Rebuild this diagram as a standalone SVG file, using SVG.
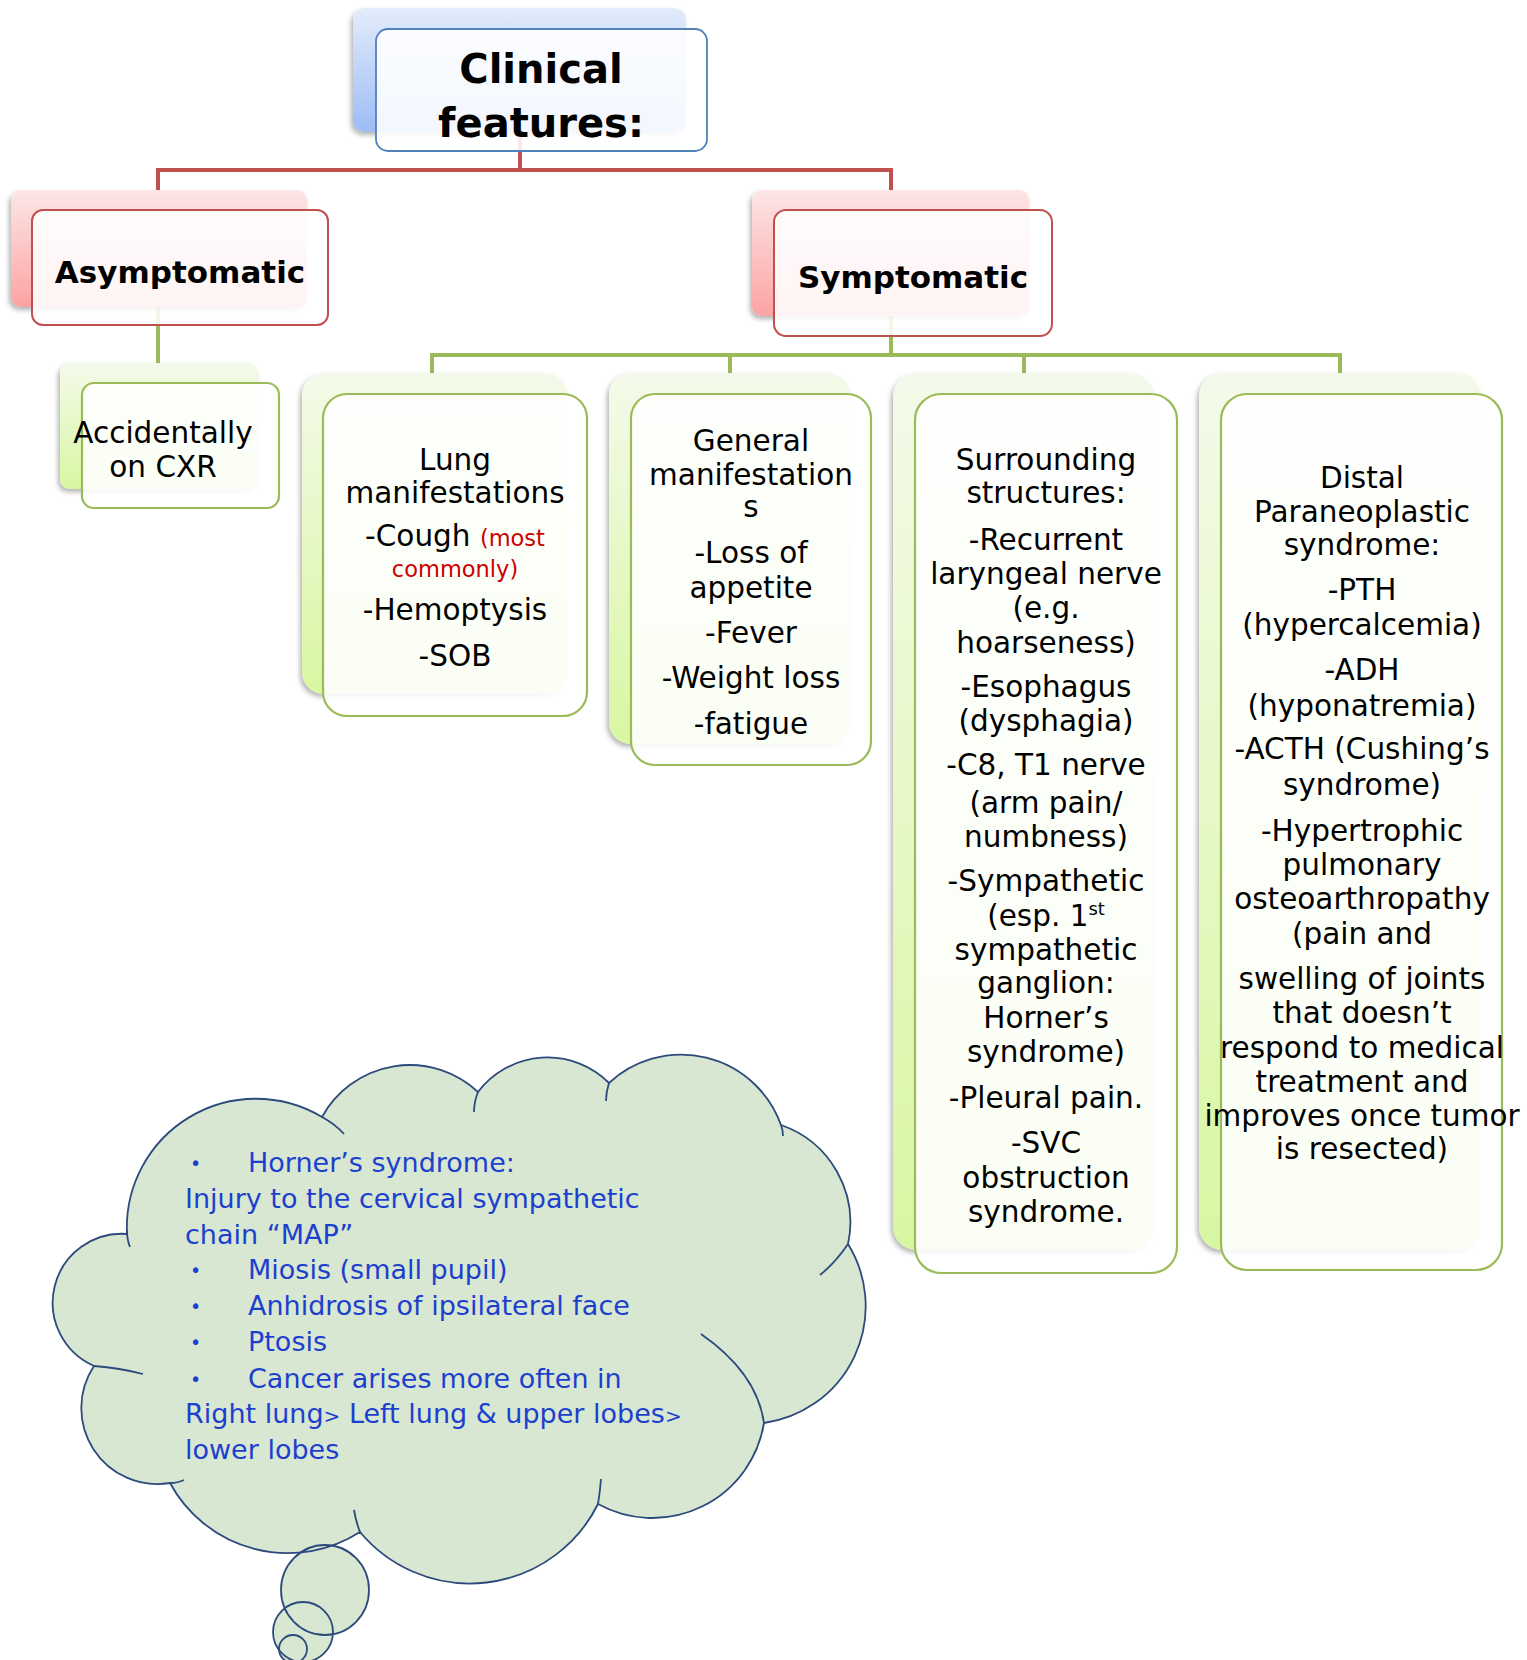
<svg xmlns="http://www.w3.org/2000/svg" width="1527" height="1660" viewBox="0 0 1527 1660">
<defs>
<linearGradient id="gB" x1="0" y1="0" x2="0" y2="1"><stop offset="0" stop-color="#e3ecfb"/><stop offset="1" stop-color="#9dbcf5"/></linearGradient>
<linearGradient id="gR" x1="0" y1="0" x2="0" y2="1"><stop offset="0" stop-color="#fde6e6"/><stop offset="1" stop-color="#fca3a3"/></linearGradient>
<linearGradient id="gG" x1="0" y1="0" x2="0" y2="1"><stop offset="0" stop-color="#f4faea"/><stop offset="1" stop-color="#d8f7a2"/></linearGradient>
<filter id="sh" x="-10%" y="-10%" width="120%" height="125%"><feDropShadow dx="-2" dy="3" stdDeviation="2.5" flood-color="#000" flood-opacity="0.3"/></filter>
</defs>
<style>
text{font-family:"DejaVu Sans","Liberation Sans",sans-serif;fill:#000;text-anchor:middle}
.t{font-size:29.5px}
.h{font-weight:bold;font-size:31px}
.ti{font-weight:bold;font-size:40px}
.red{fill:#cc0000;font-size:22.5px}
.bb{fill:url(#gB);filter:url(#sh)}
.br{fill:url(#gR);filter:url(#sh)}
.bg{fill:url(#gG);filter:url(#sh)}
.fb{fill:#fff;fill-opacity:.88;stroke:#4f81bd;stroke-width:1.8}
.fr{fill:#fff;fill-opacity:.88;stroke:#c0504d;stroke-width:2}
.fg{fill:#fff;fill-opacity:.88;stroke:#9bbb59;stroke-width:2.2}
.cr{stroke:#c0504d;stroke-width:4;fill:none}
.cg{stroke:#9bbb59;stroke-width:4;fill:none}
.cl{fill:#d7e7d1;stroke:none}
.cs{fill:none;stroke:#2c4a7c;stroke-width:1.8}
.ct{font-size:27px;fill:#1d3fcf;text-anchor:start}
.bu{font-size:19px}
.gt{font-size:20px}
</style>

<g id="connectors">
<path class="cr" d="M520 132 V170 M158 170 H891 M158 168 V190 M891 168 V190"/>
<path class="cg" d="M158 307 V363 M891 316 V355 M432 355 H1340 M432 353 V373 M730 353 V373 M1024 353 V373 M1340 353 V373"/>
</g>

<g id="clinical">
<rect class="bb" x="353" y="8" width="333" height="124" rx="12"/>
<rect class="fb" x="376" y="29" width="331" height="122" rx="12"/>
<text class="ti" x="541" y="83">Clinical</text>
<text class="ti" x="541" y="137">features:</text>
</g>

<g id="asymptomatic">
<rect class="br" x="11" y="190" width="296" height="117" rx="10"/>
<rect class="fr" x="32" y="210" width="296" height="115" rx="11"/>
<text class="h" x="180" y="283">Asymptomatic</text>
</g>

<g id="symptomatic">
<rect class="br" x="752" y="190" width="277" height="126" rx="10"/>
<rect class="fr" x="774" y="210" width="278" height="126" rx="12"/>
<text class="h" x="913" y="288">Symptomatic</text>
</g>

<g id="accidentally">
<rect class="bg" x="60" y="363" width="198" height="126" rx="10"/>
<rect class="fg" x="82" y="383" width="197" height="125" rx="12"/>
<text class="t" x="163" y="443">Accidentally</text>
<text class="t" x="163" y="477">on CXR</text>
</g>

<g id="lung">
<rect class="bg" x="302" y="373" width="265" height="321" rx="22"/>
<rect class="fg" x="323" y="394" width="264" height="322" rx="24"/>
<text class="t" x="455" y="470">Lung</text>
<text class="t" x="455" y="503">manifestations</text>
<text class="t" x="455" y="546">-Cough <tspan class="red">(most</tspan></text>
<text class="t red" x="455" y="577">commonly)</text>
<text class="t" x="455" y="620">-Hemoptysis</text>
<text class="t" x="455" y="666">-SOB</text>
</g>

<g id="general">
<rect class="bg" x="609" y="373" width="241" height="371" rx="22"/>
<rect class="fg" x="631" y="394" width="240" height="371" rx="24"/>
<text class="t" x="751" y="451">General</text>
<text class="t" x="751" y="485">manifestation</text>
<text class="t" x="751" y="517">s</text>
<text class="t" x="751" y="563">-Loss of</text>
<text class="t" x="751" y="598">appetite</text>
<text class="t" x="751" y="643">-Fever</text>
<text class="t" x="751" y="688">-Weight loss</text>
<text class="t" x="751" y="734">-fatigue</text>
</g>

<g id="surrounding">
<rect class="bg" x="893" y="373" width="261" height="877" rx="24"/>
<rect class="fg" x="915" y="394" width="262" height="879" rx="26"/>
<text class="t" x="1046" y="470">Surrounding</text>
<text class="t" x="1046" y="503">structures:</text>
<text class="t" x="1046" y="550">-Recurrent</text>
<text class="t" x="1046" y="584">laryngeal nerve</text>
<text class="t" x="1046" y="618">(e.g.</text>
<text class="t" x="1046" y="653">hoarseness)</text>
<text class="t" x="1046" y="697">-Esophagus</text>
<text class="t" x="1046" y="731">(dysphagia)</text>
<text class="t" x="1046" y="775">-C8, T1 nerve</text>
<text class="t" x="1046" y="813">(arm pain/</text>
<text class="t" x="1046" y="847">numbness)</text>
<text class="t" x="1046" y="891">-Sympathetic</text>
<text class="t" x="1046" y="926">(esp. 1<tspan font-size="18" dy="-11">st</tspan></text>
<text class="t" x="1046" y="960">sympathetic</text>
<text class="t" x="1046" y="993">ganglion:</text>
<text class="t" x="1046" y="1028">Horner’s</text>
<text class="t" x="1046" y="1062">syndrome)</text>
<text class="t" x="1046" y="1108">-Pleural pain.</text>
<text class="t" x="1046" y="1153">-SVC</text>
<text class="t" x="1046" y="1188">obstruction</text>
<text class="t" x="1046" y="1222">syndrome.</text>
</g>

<g id="distal">
<rect class="bg" x="1199" y="373" width="282" height="877" rx="24"/>
<rect class="fg" x="1221" y="394" width="281" height="876" rx="26"/>
<text class="t" x="1362" y="488">Distal</text>
<text class="t" x="1362" y="522">Paraneoplastic</text>
<text class="t" x="1362" y="555">syndrome:</text>
<text class="t" x="1362" y="600">-PTH</text>
<text class="t" x="1362" y="635">(hypercalcemia)</text>
<text class="t" x="1362" y="680">-ADH</text>
<text class="t" x="1362" y="716">(hyponatremia)</text>
<text class="t" x="1362" y="759">-ACTH (Cushing’s</text>
<text class="t" x="1362" y="795">syndrome)</text>
<text class="t" x="1362" y="841">-Hypertrophic</text>
<text class="t" x="1362" y="875">pulmonary</text>
<text class="t" x="1362" y="909">osteoarthropathy</text>
<text class="t" x="1362" y="944">(pain and</text>
<text class="t" x="1362" y="989">swelling of joints</text>
<text class="t" x="1362" y="1023">that doesn’t</text>
<text class="t" x="1362" y="1058">respond to medical</text>
<text class="t" x="1362" y="1092">treatment and</text>
<text class="t" x="1362" y="1126">improves once tumor</text>
<text class="t" x="1362" y="1159">is resected)</text>
</g>

<g id="cloud">
<path class="cl" d="M127 1234 A129 129 0 0 1 322 1117 A100 100 0 0 1 478 1092 A87 87 0 0 1 609 1083 A106 106 0 0 1 781 1125 A103 103 0 0 1 848 1244 A118 118 0 0 1 764 1423 A113 113 0 0 1 598 1504 A143 143 0 0 1 360 1532 A134 134 0 0 1 170 1483 A76 76 0 0 1 94 1366 A69 69 0 0 1 127 1234 Z"/>
<ellipse class="cl" cx="325" cy="1590" rx="44" ry="45"/>
<circle class="cl" cx="303" cy="1632" r="30"/>
<circle class="cl" cx="293" cy="1649" r="14"/>
<path class="cs" d="M127 1234 A129 129 0 0 1 322 1117 A100 100 0 0 1 478 1092 A87 87 0 0 1 609 1083 A106 106 0 0 1 781 1125 A103 103 0 0 1 848 1244 A118 118 0 0 1 764 1423 A113 113 0 0 1 598 1504 A143 143 0 0 1 360 1532 A134 134 0 0 1 170 1483 A76 76 0 0 1 94 1366 A69 69 0 0 1 127 1234 Z"/>
<path class="cs" d="M127 1230 Q127 1240 130 1247 M322 1117 Q335 1124 344 1134 M478 1092 Q474 1102 474 1112 M609 1083 Q606 1092 606 1101 M781 1125 Q783 1130 783 1136 M848 1244 Q836 1262 820 1275 M701 1334 Q757 1373 764 1423 M601 1479 Q600 1492 598 1504 M354 1510 Q356 1522 360 1532 M170 1483 Q178 1483 184 1480 M94 1366 Q120 1368 143 1374"/>
<ellipse class="cs" cx="325" cy="1590" rx="44" ry="45"/>
<circle class="cs" cx="303" cy="1632" r="30"/>
<circle class="cs" cx="293" cy="1649" r="14"/>
<text class="ct bu" x="190" y="1170">•</text><text class="ct" x="248" y="1172">Horner’s syndrome:</text>
<text class="ct" x="185" y="1208">Injury to the cervical sympathetic</text>
<text class="ct" x="185" y="1244">chain “MAP”</text>
<text class="ct bu" x="190" y="1277">•</text><text class="ct" x="248" y="1279">Miosis (small pupil)</text>
<text class="ct bu" x="190" y="1313">•</text><text class="ct" x="248" y="1315">Anhidrosis of ipsilateral face</text>
<text class="ct bu" x="190" y="1349">•</text><text class="ct" x="248" y="1351">Ptosis</text>
<text class="ct bu" x="190" y="1386">•</text><text class="ct" x="248" y="1388">Cancer arises more often in</text>
<text class="ct" x="185" y="1423">Right lung<tspan class="gt">&gt;</tspan> Left lung &amp; upper lobes<tspan class="gt">&gt;</tspan></text>
<text class="ct" x="185" y="1459">lower lobes</text>
</g>
</svg>
